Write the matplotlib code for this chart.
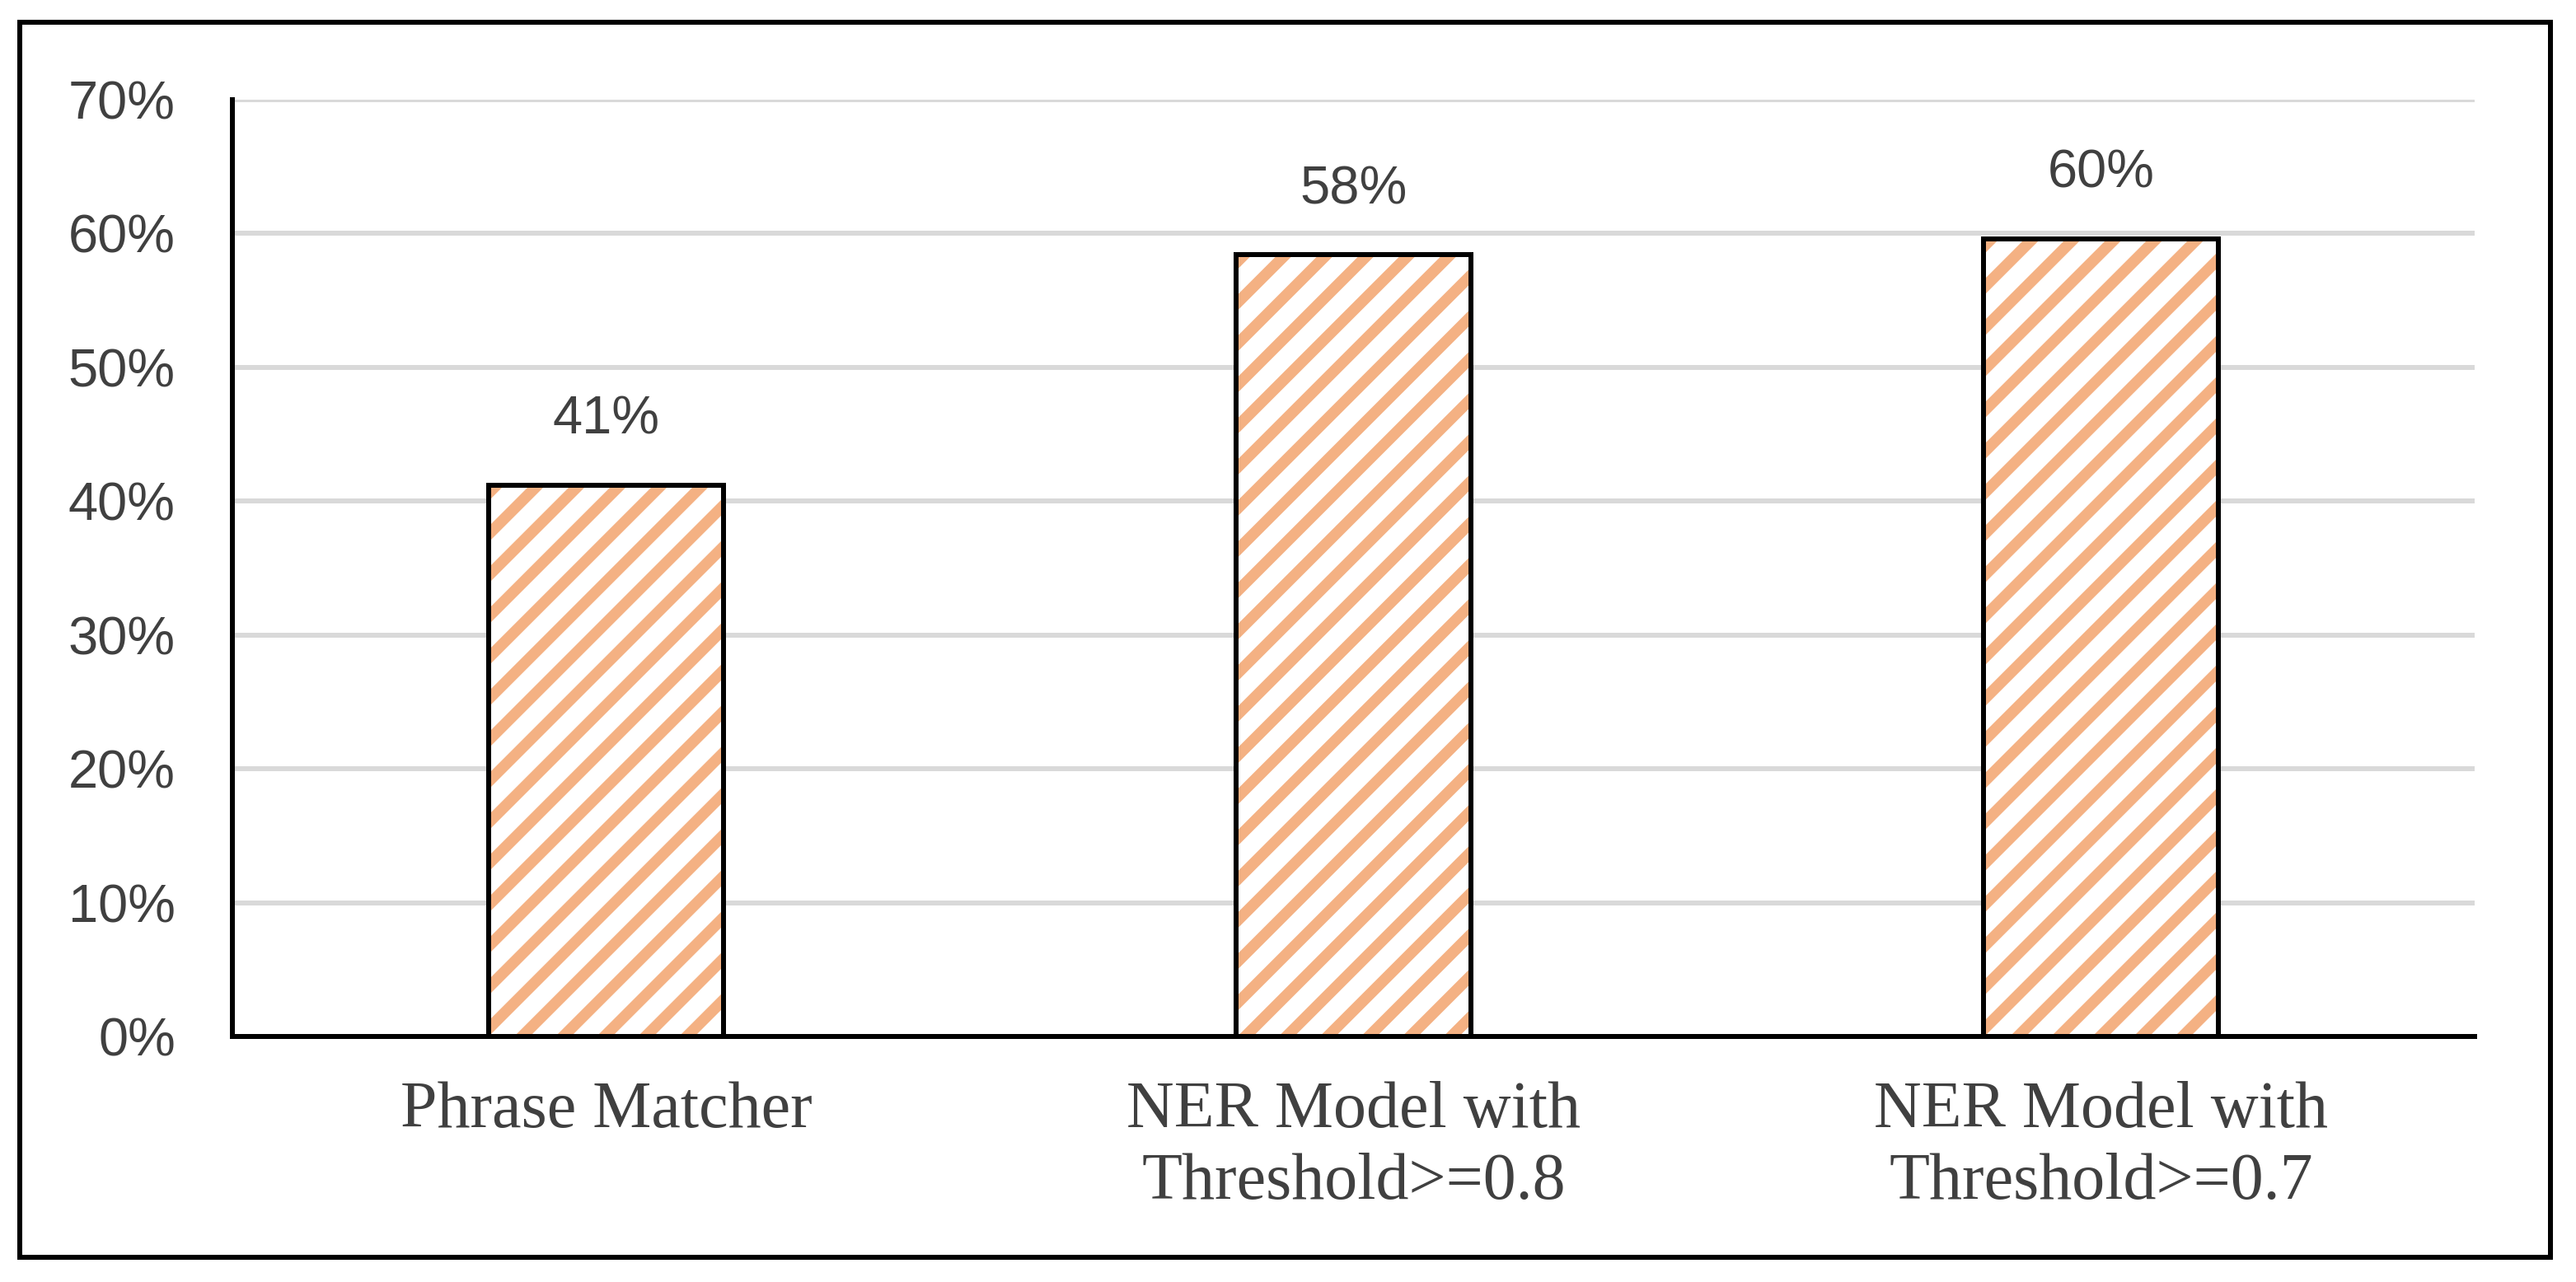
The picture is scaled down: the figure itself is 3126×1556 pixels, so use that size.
import numpy as np
import matplotlib
matplotlib.use("Agg")
import matplotlib.pyplot as plt
from matplotlib import font_manager
from matplotlib.collections import LineCollection
from matplotlib.patches import Rectangle
from matplotlib.transforms import IdentityTransform
from matplotlib.ticker import PercentFormatter, MultipleLocator

# ---- data ----
categories = ["Phrase Matcher", "NER Model with\nThreshold>=0.8", "NER Model with\nThreshold>=0.7"]
accuracy = [0.412, 0.584, 0.596]
value_labels = ["41%", "58%", "60%"]

W, H, DPI = 3126, 1556, 100
fig = plt.figure(figsize=(W / DPI, H / DPI), dpi=DPI)
fig.patch.set_facecolor("white")


def px(v):
    return v * 72 / DPI


# outer frame
fig.patches.append(Rectangle((24 / W, 1 - 1525.5 / H), (3095 - 24) / W, (1525.5 - 27) / H,
                             transform=fig.transFigure, fill=False, edgecolor="black",
                             linewidth=px(6), joinstyle="miter", zorder=10))

ax_l, ax_r, ax_t, ax_b = 282, 3003, 121, 1258
ax = fig.add_axes([ax_l / W, 1 - ax_b / H, (ax_r - ax_l) / W, (ax_b - ax_t) / H])

installed = {f.name for f in font_manager.fontManager.ttflist}
if "Liberation Sans Narrow" in installed:
    tick_font = ["Liberation Sans Narrow", "DejaVu Sans"]
    tick_size = px(72)
else:
    tick_font = ["Liberation Sans", "DejaVu Sans"]
    tick_size = px(65)
label_font = ["Liberation Serif", "DejaVu Serif"]
text_color = "#404040"

x = np.arange(len(categories))
bar_w = 0.315
ax.set_xlim(-0.5, len(categories) - 0.5)
ax.set_ylim(0, 0.70)

# white bar bodies
bars = ax.bar(x, accuracy, width=bar_w, color="white", edgecolor="none", zorder=2)
# outlines on top
ax.bar(x, accuracy, width=bar_w, fill=False, edgecolor="black", linewidth=px(6),
       joinstyle="miter", zorder=4)

# diagonal stripes inside each bar (pixel space, clipped to bar)
period = 50.0
slope = 1.0
for b in bars:
    ext = b.get_window_extent()
    x0, x1, y0, y1 = ext.x0, ext.x1, ext.y0, ext.y1
    h = y1 - y0
    start = x0 - h / slope - period
    segs = []
    xs = start
    while xs < x1 + period:
        segs.append([(xs, y0 - 10), (xs + (h + 30) / slope, y0 + h + 20)])
        xs += period
    lc = LineCollection(segs, colors="#F4B183", linewidths=px(13.5), transform=IdentityTransform(),
                        zorder=3, capstyle="butt")
    ax.add_collection(lc)
    lc.set_clip_path(b)

# value labels
for xi, v, lab in zip(x, accuracy, value_labels):
    ax.annotate(lab, (xi, v), xytext=(0, px(62)), textcoords="offset points",
                ha="center", va="baseline", fontsize=tick_size, family=tick_font, color=text_color)

# axes styling
ax.yaxis.set_major_locator(MultipleLocator(0.10))
ax.yaxis.set_major_formatter(PercentFormatter(1.0, decimals=0))
ax.grid(axis="y", color="#D9D9D9", linewidth=px(6), zorder=0)
ax.set_axisbelow(True)
for s in ["top", "right"]:
    ax.spines[s].set_visible(False)
for s in ["left", "bottom"]:
    ax.spines[s].set_linewidth(px(6))
    ax.spines[s].set_color("black")
ax.tick_params(axis="both", length=0)
ax.tick_params(axis="y", pad=px(69))
ax.tick_params(axis="x", pad=px(54))
for t in ax.get_yticklabels():
    t.set_fontsize(tick_size); t.set_family(tick_font); t.set_color(text_color)
ax.set_xticks(x)
ax.set_xticklabels(categories, fontsize=px(80), family=label_font, color=text_color, linespacing=1.25)

fig.savefig("out.png", dpi=DPI, facecolor="white")
